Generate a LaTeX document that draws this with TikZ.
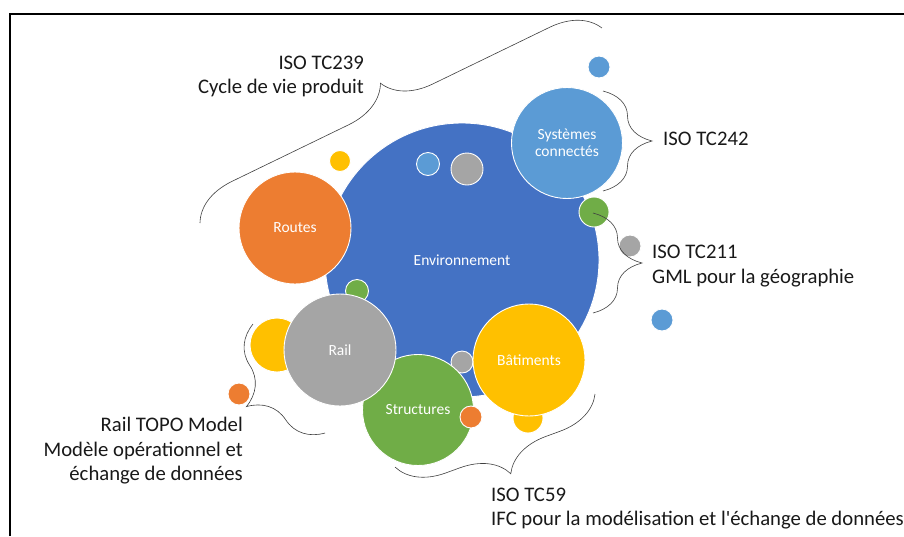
\documentclass[tikz,border=0pt]{standalone}
\usepackage{fontspec}
\setmainfont{Carlito}
\usetikzlibrary{decorations.pathreplacing}
\definecolor{cblue}{HTML}{4472C4}
\definecolor{corange}{HTML}{ED7D31}
\definecolor{cgray}{HTML}{A5A5A5}
\definecolor{cyellow}{HTML}{FFC000}
\definecolor{clblue}{HTML}{5B9BD5}
\definecolor{cgreen}{HTML}{70AD47}
\begin{document}
\begin{tikzpicture}[x=1pt,y=-1pt,
  bub/.style={circle,draw=white,line width=0.9pt,inner sep=0pt,text=white,
    font=\fontsize{15.5}{18}\selectfont,align=center},
  lbl/.style={font=\fontsize{20.7}{24}\selectfont,text=black!90,inner sep=0pt},
  brc/.style={draw=black!75,line width=0.6pt,decorate,decoration={brace,amplitude=#1}}]
\useasboundingbox (0,0) rectangle (904,536);
\fill[white] (0,0) rectangle (904,536);
% frame
\draw[line width=2pt] (10,536) -- (10,14) -- (904,14);

% bubbles behind
\node[bub,fill=cyellow,minimum size=54pt] (y1) at (277,345) {};
\node[bub,fill=cyellow,minimum size=30pt] (y2) at (528,418) {};
\node[bub,fill=cblue,minimum size=274pt] (env) at (462,260) {Environnement};
\node[bub,fill=clblue,minimum size=23pt] (b1) at (428,164) {};
\node[bub,fill=cgray,minimum size=32pt] (g1) at (467,169) {};
\node[bub,fill=cgreen,minimum size=23pt] (gr1) at (357,291) {};
\node[bub,fill=cgray,minimum size=22pt] (g2) at (462,362) {};
\node[bub,fill=corange,minimum size=112pt] (routes) at (295,228) {Routes};
\node[bub,fill=clblue,minimum size=111pt] (sys) at (567,143) {Systèmes\\[-1pt]connectés};
\node[bub,fill=cgreen,minimum size=30pt] (gr2) at (594,212) {};
\node[bub,fill=cyellow,minimum size=112pt] (bat) at (529,360) {Bâtiments};
\node[bub,fill=cgreen,minimum size=111pt] (struct) at (418,410) {Structures};
\node[bub,fill=cgray,minimum size=112pt] (rail) at (340,350) {Rail};
\node[bub,fill=corange,minimum size=22pt] (o1) at (471,417) {};
% free bubbles
\node[bub,fill=clblue,minimum size=22pt] (b2) at (599,67) {};
\node[bub,fill=cgray,minimum size=22pt] (g3) at (630,246) {};
\node[bub,fill=clblue,minimum size=22pt] (b3) at (662,320) {};
\node[bub,fill=cyellow,minimum size=21pt] (y3) at (340,161) {};
\node[bub,fill=corange,minimum size=22pt] (o2) at (239,394) {};

% brace end points
\coordinate (a1) at (200,223); \coordinate (a2) at (602,28);
\coordinate (c1) at (603,91);  \coordinate (c2) at (603,191);
\coordinate (d1) at (593,213); \coordinate (d2) at (593,313);
\coordinate (e1) at (325,433); \coordinate (e2) at (253,324);
\coordinate (f1) at (595,394); \coordinate (f2) at (395,467);
\draw[brc=47pt] (a1) -- (a2);
\draw[brc=49pt] (c1) -- (c2);
\draw[brc=49pt] (d1) -- (d2);
\draw[brc=51pt] (e1) -- (e2);
\draw[brc=46pt] (f1) -- (f2);

% labels
\node[lbl,anchor=base east] (t239a) at (364,69) {ISO TC239};
\node[lbl,anchor=base east] (t239b) at (364,93) {Cycle de vie produit};
\node[lbl,anchor=base west] (t242) at (663,145) {ISO TC242};
\node[lbl,anchor=base west] (t211a) at (652,258) {ISO TC211};
\node[lbl,anchor=base west] (t211b) at (652,283) {GML pour la géographie};
\node[lbl,anchor=base west] (t59a) at (491,501) {ISO TC59};
\node[lbl,anchor=base west] (t59b) at (491,525) {IFC pour la modélisation et l\textquotesingle échange de données};
\node[lbl,anchor=base east] (trA) at (243,431) {Rail TOPO Model};
\node[lbl,anchor=base east] (trB) at (243,456) {Modèle opérationnel et};
\node[lbl,anchor=base east] (trC) at (243,480) {échange de données};
\end{tikzpicture}
\end{document}
